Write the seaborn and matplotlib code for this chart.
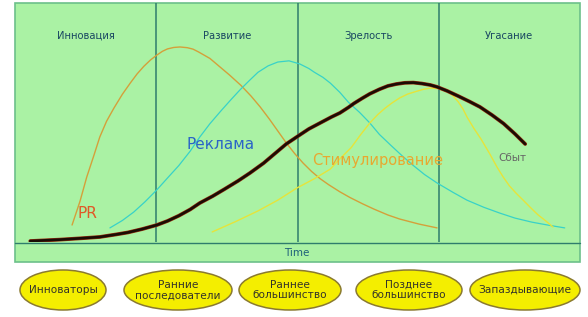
import numpy as np
import pandas as pd
import matplotlib
matplotlib.use("Agg")
import matplotlib.pyplot as plt
import matplotlib.patheffects as pe
from matplotlib.patches import Ellipse, Rectangle
import seaborn as sns

# ---- data (time 0-100, level 0-100) ----
stages = ["Инновация", "Развитие", "Зрелость", "Угасание"]
stage_bounds = [25, 50, 75]
adopters = ["Инноваторы", "Ранние\nпоследователи", "Раннее\nбольшинство",
            "Позднее\nбольшинство", "Запаздывающие"]

sales_x = [2.7, 8.0, 12.0, 15.0, 18.0, 20.0, 22.5, 25.1, 27.0, 29.0, 31.0, 32.7, 35.0, 37.0,
           39.5, 41.6, 44.0, 46.0, 48.0, 50.4, 52.0, 54.0, 56.0, 57.5, 59.0, 60.0, 61.5,
           62.8, 64.5, 66.0, 67.5, 69.0, 70.5, 72.0, 73.5, 74.7, 76.5, 78.5, 80.5, 82.3,
           84.5, 86.5, 88.5, 90.3]
sales_y = [0.4, 1.0, 1.6, 2.1, 3.2, 4.0, 5.4, 7.1, 8.8, 11.0, 13.6, 16.3, 19.2, 22.0,
           25.6, 28.9, 33.0, 37.0, 41.0, 44.8, 47.3, 49.8, 52.3, 54.0, 56.3, 58.0, 60.2,
           62.0, 63.9, 65.3, 66.1, 66.6, 66.7, 66.3, 65.7, 64.9, 63.2, 61.0, 58.7, 56.5,
           53.0, 49.5, 45.2, 41.0]

pr_x = [10.1, 11.5, 12.7, 14.0, 15.0, 16.2, 17.5, 19.0, 20.4, 21.6, 22.8, 24.0, 25.1, 26.1,
        27.0, 28.1, 29.2, 30.5, 31.5, 32.5, 34.5, 36.3, 38.0, 40.0, 41.8, 43.4, 45.0, 46.5,
        48.0, 49.5, 51.0, 52.5, 54.0, 55.5, 57.5, 59.3, 61.5, 63.5, 66.0, 68.1, 71.5, 74.7]
pr_y = [7.1, 17.0, 27.2, 36.5, 43.9, 50.5, 56.0, 61.8, 66.5, 70.3, 73.5, 76.2, 78.2, 79.8,
        80.8, 81.4, 81.6, 81.3, 80.7, 79.5, 76.8, 73.2, 69.8, 65.5, 61.0, 56.5, 51.5, 46.5,
        41.5, 37.0, 33.0, 29.5, 26.5, 24.0, 21.0, 18.6, 16.0, 13.8, 11.3, 9.6, 7.5, 5.9]

ad_x = [16.8, 19.0, 21.0, 23.0, 25.1, 27.0, 29.0, 31.0, 32.7, 34.5, 36.5, 38.2, 39.8, 41.5,
        43.0, 44.8, 46.5, 48.5, 50.4, 52.0, 53.0, 54.5, 55.8, 57.5, 59.0, 61.0, 62.8, 64.5,
        66.5, 68.5, 70.5, 72.5, 74.7, 77.5, 80.0, 83.0, 85.8, 88.5, 91.5, 94.5, 97.3]
ad_y = [5.9, 9.0, 12.5, 16.8, 21.8, 26.8, 32.0, 38.0, 43.9, 49.5, 55.0, 59.5, 63.6, 67.6,
        71.0, 73.7, 75.3, 75.8, 74.5, 72.6, 71.0, 68.9, 66.5, 62.6, 58.5, 54.2, 49.8, 45.0,
        40.5, 36.1, 32.0, 28.2, 24.7, 20.8, 17.5, 14.5, 12.1, 10.0, 8.3, 7.0, 5.9]

st_x = [34.9, 39.0, 43.0, 46.5, 49.9, 53.0, 55.8, 57.5, 59.5, 61.2, 62.8, 64.2, 65.5, 66.8,
        68.1, 69.5, 71.0, 72.3, 73.5, 75.0, 76.5, 77.5, 78.5, 79.3, 80.0, 81.2, 82.5, 84.0,
        85.3, 86.4, 87.5, 88.7, 89.9, 91.2, 92.5, 94.0, 95.2]
st_y = [4.2, 8.5, 13.0, 17.5, 22.6, 26.5, 30.5, 34.8, 39.5, 45.0, 49.8, 53.3, 56.0, 58.3,
        60.3, 61.9, 63.0, 63.9, 64.4, 64.2, 63.0, 61.2, 58.5, 55.6, 52.3, 47.6, 43.0, 37.0,
        31.4, 27.2, 23.5, 20.4, 17.6, 14.5, 11.5, 8.7, 6.3]

label_text = ["PR", "Реклама", "Стимулирование", "Сбыт"]
label_x = [12.9, 36.3, 64.1, 88.0]
label_y = [12.1, 40.6, 34.3, 35.1]

# ---- style ----
sns.set_theme(style="white")
plt.rcParams['font.family'] = ['DejaVu Sans']

BG = "#aaf2a4"
LINE = "#2f7d6c"

fig = plt.figure(figsize=(5.88, 3.17), dpi=100)
fig.patch.set_facecolor("white")

# decoration axes in pixel coords
deco = fig.add_axes([0, 0, 1, 1])
deco.set_xlim(0, 588)
deco.set_ylim(317, 0)
deco.axis("off")
deco.add_patch(Rectangle((15, 3), 565, 259, facecolor=BG, edgecolor="#6cc08a", lw=1.2, zorder=0))
deco.plot([15, 580], [243, 243], color=LINE, lw=1.0, zorder=1)
deco.text(297, 253, "Time", ha="center", va="center", fontsize=7.5, color="#1f5f7a")

centers = [63, 178, 290, 409, 525]
widths = [86, 108, 102, 106, 110]
for cx, w, lab in zip(centers, widths, adopters):
    deco.add_patch(Ellipse((cx, 290), w, 40, facecolor="#f4ee00", edgecolor="#8a7a30", lw=1.1))
    deco.text(cx, 290, lab, ha="center", va="center", fontsize=7.6, color="#33332a",
              linespacing=1.05)

# main chart axes
ax = fig.add_axes([15/588, (317-242)/317, 565/588, 239/317])
ax.patch.set_alpha(0)
ax.set_xlim(0, 100)
ax.set_ylim(0, 100)
for s in ax.spines.values():
    s.set_visible(False)
ax.set_xticks([]); ax.set_yticks([])

for b in stage_bounds:
    ax.axvline(b, color=LINE, lw=1.1)
for i, st in enumerate(stages):
    ax.text(12.5 + 25*i, 86.2, st, ha="center", va="center", fontsize=7.2, color="#1a4862")

sns.lineplot(x=pr_x, y=pr_y, ax=ax, color="#d4a03a", lw=1.0, sort=False)
sns.lineplot(x=ad_x, y=ad_y, ax=ax, color="#38d2c8", lw=0.9, sort=False)
sns.lineplot(x=st_x, y=st_y, ax=ax, color="#e6e43a", lw=1.0, sort=False)
sns.lineplot(x=sales_x, y=sales_y, ax=ax, color="#1a0c04", lw=1.9, sort=False,
             path_effects=[pe.Stroke(linewidth=2.7, foreground="#9a3010"), pe.Normal()])

colors = ["#e05a28", "#2a64c8", "#e8a830", "#666666"]
sizes = [11, 11, 10.5, 7.5]
for t, x, y, c, fs in zip(label_text, label_x, label_y, colors, sizes):
    ax.text(x, y, t, ha="center", va="center", fontsize=fs, color=c)

fig.savefig("out.png", dpi=100, facecolor="white")
